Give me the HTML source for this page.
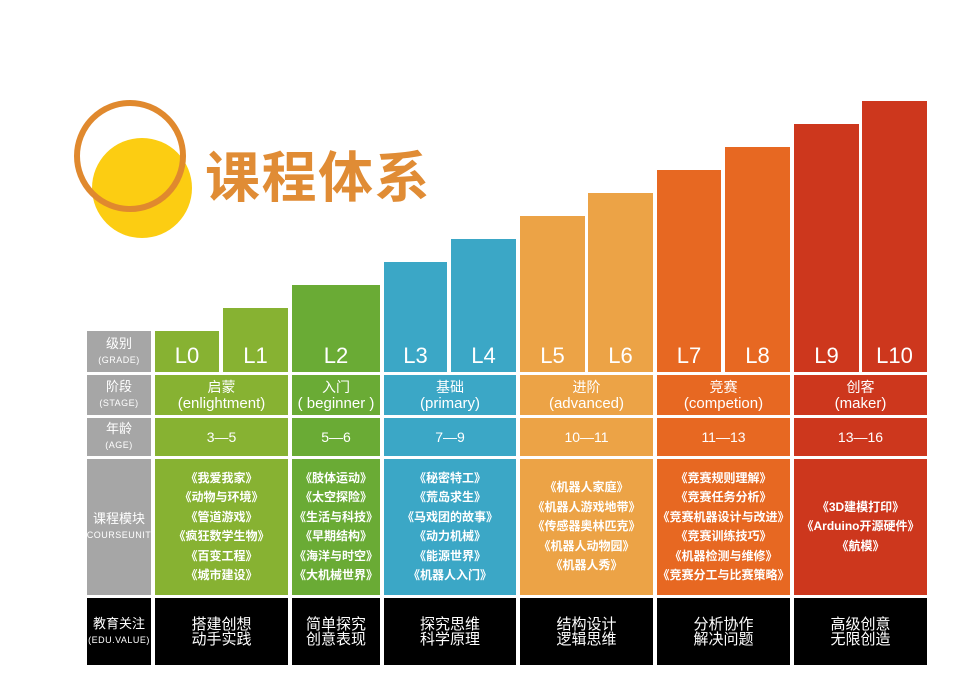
<!DOCTYPE html>
<html><head><meta charset="utf-8"><style>
body{margin:0;width:970px;height:699px;background:#fff;position:relative;overflow:hidden;font-family:"Liberation Sans","Noto Sans CJK SC",sans-serif}
.c{position:absolute;color:#fff;display:flex;flex-direction:column;align-items:center;justify-content:center;text-align:center;box-sizing:border-box}
.lab{background:#a6a6a6;font-size:13px;line-height:16px}
.lab small{font-size:9px;letter-spacing:0.5px}
.lv{justify-content:flex-end;padding-bottom:3px;font-size:22px}
</style></head><body>
<svg style="position:absolute;left:0;top:0" width="260" height="260">
<circle cx="142" cy="188" r="50" fill="#fccd12"/>
<circle cx="130" cy="156" r="53" fill="none" stroke="#e0892e" stroke-width="6"/>
</svg>
<div style="position:absolute;left:205px;top:140px;font-size:55px;font-weight:bold;color:#e08c35;font-family:'Noto Sans CJK SC',sans-serif;line-height:66px;letter-spacing:1.5px">课程体系</div>
<div id="root"></div>
<script>
const levels=["L0","L1","L2","L3","L4","L5","L6","L7","L8","L9","L10"];
const stepHeights=[41,64,87,110,133,156,179,202,225,248,271];
const groups=["启蒙","入门","基础","进阶","竞赛","创客"];
const groupEn=["(enlightment)","( beginner )","(primary)","(advanced)","(competion)","(maker)"];
const ages=["3—5","5—6","7—9","10—11","11—13","13—16"];
const courses=[["《我爱我家》","《动物与环境》","《管道游戏》","《疯狂数学生物》","《百变工程》","《城市建设》"],["《肢体运动》","《太空探险》","《生活与科技》","《早期结构》","《海洋与时空》","《大机械世界》"],["《秘密特工》","《荒岛求生》","《马戏团的故事》","《动力机械》","《能源世界》","《机器人入门》"],["《机器人家庭》","《机器人游戏地带》","《传感器奥林匹克》","《机器人动物园》","《机器人秀》"],["《竞赛规则理解》","《竞赛任务分析》","《竞赛机器设计与改进》","《竞赛训练技巧》","《机器检测与维修》","《竞赛分工与比赛策略》"],["《3D建模打印》","《Arduino开源硬件》","《航模》"]];
const edu=[["搭建创想","动手实践"],["简单探究","创意表现"],["探究思维","科学原理"],["结构设计","逻辑思维"],["分析协作","解决问题"],["高级创意","无限创造"]];
const groupOf=[0,0,1,2,2,3,3,4,4,5,5];
const colors=["#87b232","#6aab35","#3ba7c6","#eca346","#e76822","#cd371d"];
const colX=[155,223,292,384,451,520,588,657,725,794,862];
const colW=[64,65,88,63,65,65,65,64,65,65,65];
const rows={grade:[331,372],stage:[375,415],age:[418,456],course:[459,595],edu:[598,665]};
const root=document.getElementById('root');
function cell(x,y,w,h,bg,cls,html,name){const d=document.createElement('div');d.className='c '+(cls||'');d.style.left=x+'px';d.style.top=y+'px';d.style.width=w+'px';d.style.height=h+'px';d.style.background=bg;d.innerHTML=html;


root.appendChild(d);return d;}
const base=rows.grade[1];
levels.forEach((l,i)=>{cell(colX[i],base-stepHeights[i],colW[i],stepHeights[i],colors[groupOf[i]],'lv',l,'level-bar-'+l.toLowerCase());});
const labels=[["级别","(GRADE)","grade"],["阶段","(STAGE)","stage"],["年龄","(AGE)","age"],["课程模块","(COURSEUNIT)","course"],["教育关注","(EDU.VALUE)","edu"]];
labels.forEach(a=>{const r=rows[a[2]];cell(87,r[0],64,r[1]-r[0],a[2]=='edu'?'#000':'#a6a6a6','lab',a[0]+'<small>'+a[1]+'</small>','row-label-'+a[2]);});
groups.forEach((g,k)=>{const idx=groupOf.map((v,i)=>v==k?i:-1).filter(i=>i>=0);const x=colX[idx[0]];const last=idx[idx.length-1];const w=colX[last]+colW[last]-x;
cell(x,rows.stage[0],w,rows.stage[1]-rows.stage[0],colors[k],'','<div style="font-size:14px;line-height:17px">'+g+'</div><div style="font-size:15px;line-height:16px">'+groupEn[k]+'</div>','stage-'+k);
cell(x,rows.age[0],w,rows.age[1]-rows.age[0],colors[k],'','<div style="font-size:14px">'+ages[k]+'</div>','age-'+k);
cell(x,rows.course[0],w,rows.course[1]-rows.course[0],colors[k],'','<div style="font-size:12px;line-height:19.5px;font-weight:bold;white-space:nowrap">'+courses[k].join('<br>')+'</div>','courses-'+k);
cell(x,rows.edu[0],w,rows.edu[1]-rows.edu[0],'#000','','<div style="font-size:15px;line-height:15px">'+edu[k].join('<br>')+'</div>','edu-value-'+k);});
</script>
</body></html>
